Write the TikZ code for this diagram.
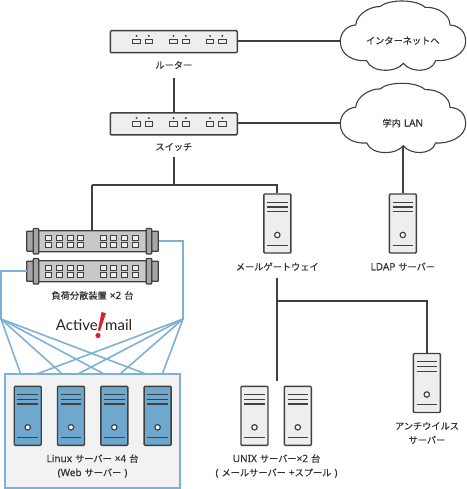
\documentclass[tikz,border=0pt]{standalone}
\usepackage{fontspec}
\setmainfont{Noto Sans CJK JP}[FakeBold=0.5]
\newfontfamily\latfont{Noto Sans}[FakeBold=0.3]
\newfontfamily\logofont{Lato}
\newcommand\lat[1]{{\latfont\fontsize{10}{13.5}\selectfont #1}}
\newcommand\gp{\hspace{3pt}}
\definecolor{ink}{HTML}{404040}
\definecolor{txt}{HTML}{333333}
\definecolor{lite}{HTML}{EEEEEE}
\definecolor{blfill}{HTML}{6FA8CF}
\definecolor{blline}{HTML}{7DB2D6}
\definecolor{rackg}{HTML}{C8C8C8}
\definecolor{earg}{HTML}{A6A6A6}
\definecolor{logored}{HTML}{D9232E}
\tikzset{
  conn/.style={draw=ink,line width=1.7pt},
  blue conn/.style={draw=blline,line width=1.6pt},
  lbl/.style={font=\fontsize{9.2}{14}\selectfont,text=txt,align=center,inner sep=0pt},
  srvbox/.style={draw=ink,line width=1.4pt,rounded corners=1pt,minimum width=27pt,minimum height=59pt,inner sep=0pt},
  netbox/.style={draw=ink,line width=1.4pt,rounded corners=1pt,fill=lite,minimum width=127pt,minimum height=22pt,inner sep=0pt},
  rackbody/.style={draw=ink,line width=1.2pt,fill=rackg,rounded corners=.6pt},
  rackear/.style={draw=ink,line width=1.2pt,fill=earg,rounded corners=.6pt},
  port/.style={draw=ink,line width=1pt,fill=lite},
  inner line/.style={draw=ink,line width=1.2pt},
  cloudline/.style={draw=ink,line width=1.1pt,fill=white},
}
\newcommand\srvunit[4]{%
  \node[srvbox,fill=#4] (#1) at (#2,#3+29.5) {};
  \begin{scope}[shift={(#2,#3)}]
    \draw[inner line] (-10.3,8.3) -- (10.3,8.3) (-10.3,13) -- (10.3,13) (-10.3,17.7) -- (10.3,17.7) (-10.3,51.3) -- (10.3,51.3);
    \draw[draw=ink,line width=1.2pt,fill=white] (0,41) circle (2.7);
  \end{scope}}
\newcommand\netunit[3]{%
  \node[netbox] (#1) at (#2,#3) {};
  \begin{scope}[shift={(#2,#3)}]
    \foreach \px in {-37.3,-25,-0.3,12,36.2,48.5}{
      \draw[port] (\px-3.8,-2.2) rectangle (\px+3.8,2.2);
      \fill[ink] (\px,-5.8) circle (1.1);
    }
  \end{scope}}
\newcommand\rackunit[3]{%
  \node[inner sep=0pt,minimum width=131.6pt,minimum height=21pt] (#1) at (#2,#3) {};
  \begin{scope}[shift={(#2,#3)}]
    \draw[rackear] (-65.8,-10) rectangle (-59,10);
    \draw[rackear] (59,-10) rectangle (65.8,10);
    \draw[rackbody] (-54,-10.5) rectangle (54,10.5);
    \draw[rackear] (-59.2,-12.7) rectangle (-53.8,12.7);
    \draw[rackear] (53.8,-12.7) rectangle (59.2,12.7);
    \foreach \px in {-43.8,-33.1,-22.4,-11.6,10.6,21.3,32,42.7}{
      \draw[port] (\px-3,-5.3) rectangle (\px+3,-1.2);
      \draw[port] (\px-3,1.7) rectangle (\px+3,5.8);
    }
  \end{scope}}
\newcommand\cloudunit[3]{%
  \begin{scope}[shift={(335,#3)},x=.33333pt,y=-.33333pt]
    \draw[cloudline] (16,125) .. controls (15,95) and (40,76) .. (62,75)
      .. controls (65,40) and (110,18) .. (135,20)
      .. controls (160,-3) and (245,-3) .. (270,22)
      .. controls (310,20) and (345,45) .. (345,75)
      .. controls (375,78) and (392,95) .. (392,125)
      .. controls (392,165) and (340,185) .. (302,182)
      .. controls (290,220) and (225,218) .. (205,190)
      .. controls (185,218) and (110,220) .. (95,182)
      .. controls (55,185) and (16,165) .. (16,125) -- cycle;
  \end{scope}
  \node[lbl,minimum width=125pt,minimum height=68pt] (#1) at (402.8,#3+40.7) {#2};}
\begin{document}
\begin{tikzpicture}[x=1pt,y=-1pt]
\useasboundingbox (0,0) rectangle (466,489);
% clouds
\cloudunit{inet}{インターネットへ}{0}
\cloudunit{lan}{学内\gp\lat{LAN}}{82.3}
% network boxes
\netunit{router}{173.8}{41.7}
\netunit{switch}{173.8}{123.9}
\node[lbl] (routerlbl) at (173.8,65) {ルーター};
\node[lbl] (switchlbl) at (173.8,147) {スイッチ};
\coordinate (rout) at (173.8,78);
\coordinate (swout) at (173.8,157);
\coordinate (bus) at (173.8,184.7);
\draw[conn] (router.east |- inet.west) -- (inet.west);
\draw[conn] (switch.east |- lan.west) -- (lan.west);
\draw[conn] (rout) -- (switch.north);
% servers
\srvunit{gw}{277.3}{194}{lite}
\srvunit{ldap}{402.8}{194}{lite}
\srvunit{anti}{426.8}{353.5}{lite}
\srvunit{ux1}{254.5}{386.3}{lite}
\srvunit{ux2}{297.8}{386.3}{lite}
\node[lbl] (gwlbl) at (277.3,266.7) {メールゲートウェイ};
\node[lbl] (ldaplbl) at (402.8,266.7) {\lat{LDAP}\gp サーバー};
\node[lbl] (antilbl) at (427,433) {アンチウイルス\\サーバー};
\node[lbl] (uxlbl) at (276.5,466) {\lat{UNIX}\gp サーバー\lat{×2}\gp 台\\\lat{(}\gp メールサーバー\gp\lat{+}スプール\gp\lat{)}};
% connectors
\coordinate (gwout) at (277.3,277.5);
\coordinate (uxin) at (277.3,381);
\coordinate (fork) at (277.3,301);
\draw[conn] (swout) -- (bus);
\draw[conn] (gw.north) |- (bus);
\draw[conn] (ldap.north) -- (402.8,146);
\draw[conn] (gwout) -- (uxin);
\draw[conn] (fork) -| (anti.north);
% load balancer and blue wiring
\coordinate (fanL) at (1,319);
\coordinate (fanR) at (183,319);
\node[draw=blline,line width=1.6pt,fill=black!5,minimum width=175pt,minimum height=113.6pt,inner sep=0pt] (webbox) at (92.5,431) {};
\foreach \tx in {20.7,62.3,104,146}{\draw[blue conn,line cap=round] (fanL) -- (\tx,374);}
\foreach \tx in {36.7,78,120,162.3}{\draw[blue conn,line cap=round] (fanR) -- (\tx,374);}
\rackunit{lb1}{92.5}{241.2}
\rackunit{lb2}{92.5}{271.2}
\draw[blue conn] (lb1.east) -| (fanR);
\draw[blue conn] (lb2.west) -| (fanL);
\draw[conn] (92.3,184.7) -- (bus);
\draw[conn] (92.3,184.7) -- (92.3,230.7);
\node[lbl] (lblbl) at (92.5,295.5) {負荷分散装置\gp\lat{×2}\gp 台};
% web servers
\srvunit{w1}{27.7}{386.3}{blfill}
\srvunit{w2}{71}{386.3}{blfill}
\srvunit{w3}{114.3}{386.3}{blfill}
\srvunit{w4}{157.6}{386.3}{blfill}
\node[lbl] (webid) at (92.5,466) {\lat{Linux}\gp サーバー\gp\lat{×4}\gp 台\\\lat{(Web}\gp サーバー\gp\lat{)}};
% logo
\node[inner sep=0pt,anchor=base east,text=black!85,font=\logofont\fontsize{15}{15}\selectfont] (logoa) at (98,330) {Active};
\node[inner sep=0pt,anchor=base west,text=black!85,font=\logofont\fontsize{15}{15}\selectfont] (logob) at (105,330) {mail};
\fill[logored] (101.5,312) -- (106,313.2) -- (100,331) -- (97.8,330.5) -- cycle;
\fill[logored] (98,335.5) circle (2.6);
\end{tikzpicture}
\end{document}
